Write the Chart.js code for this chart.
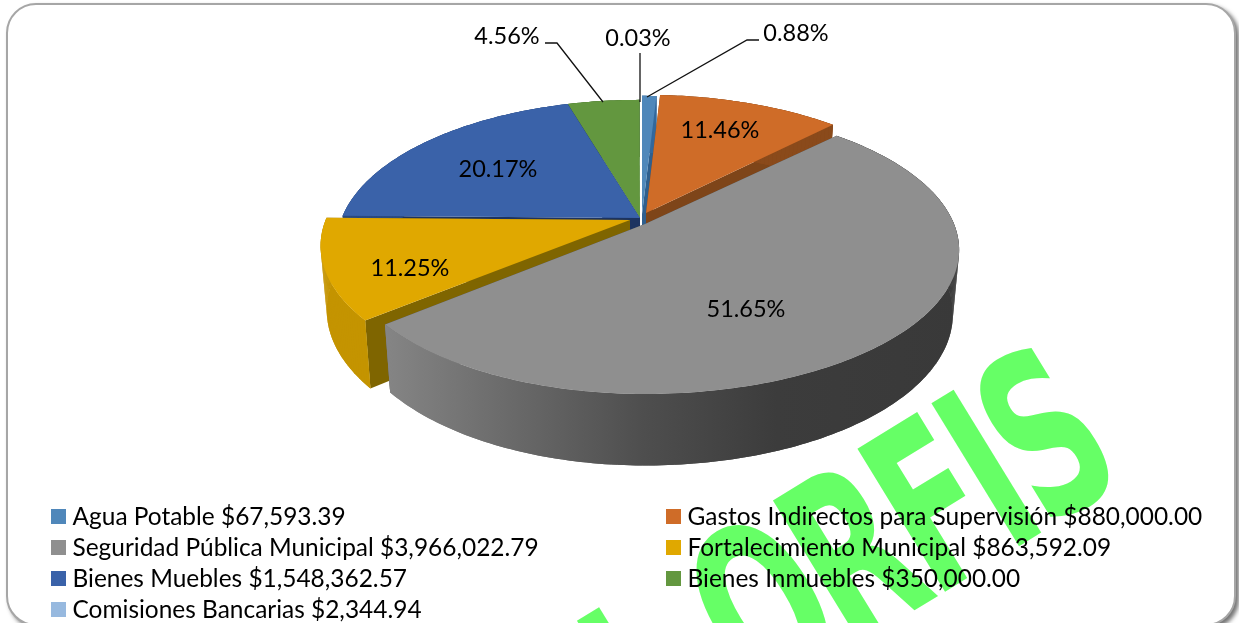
<!DOCTYPE html>
<html lang="es"><head><meta charset="utf-8">
<style>
html,body{margin:0;padding:0;background:#fff;overflow:hidden;width:1239px;height:623px}
#card{position:absolute;left:6px;top:3px;width:1230px;height:623px;box-sizing:border-box;background:#fff;border:2px solid #a6a6a6;border-radius:30px;box-shadow:3px 3px 4px rgba(0,0,0,.55)}
#wrap{position:absolute;left:0;top:0;width:1239px;height:623px}
</style>
<script src="https://cdn.jsdelivr.net/npm/chart.js@4"></script>
</head><body>
<div id="card"></div>
<div id="wrap"><canvas id="c" width="1239" height="623"></canvas></div>
<script>
// ---- data ----
const categories = ["Agua Potable","Gastos Indirectos para Supervisión","Seguridad Pública Municipal","Fortalecimiento Municipal","Bienes Muebles","Bienes Inmuebles","Comisiones Bancarias"];
const amounts = [67593.39,880000.00,3966022.79,863592.09,1548362.57,350000.00,2344.94];
const percentLabels = ["0.88%","11.46%","51.65%","11.25%","20.17%","4.56%","0.03%"];
const amountLabels = ["$67,593.39","$880,000.00","$3,966,022.79","$863,592.09","$1,548,362.57","$350,000.00","$2,344.94"];
// ---- style ----
const topColors = ["#4f87ba","#cf6c28","#8f8f8f","#e0a800","#3a62a9","#63973f","#97b9df"];
const wallColors = ["#33689c","#8a4a1b","#6a6a6a","#c49400","#2a4a80","#47702d","#7d9cc0"];
const cutColors = ["#2f5f8e","#7e4519","#4a4a4a","#7f6500","#1c3360","#3a5c25","#6b87a8"];
const apexes = [[642,214],[646,213],[645,224],[630,220],[640,218],[640,218],[640,218]];
const leftScale = [1,1,.967,.985,.965,.965,1];
const rightScale = [1,.975,1,1,1,1,1];
const paintOrder = [6,5,4,0,1,3,2];
const labelSpots = [[796,33],[720,130.5],[746,309.5],[410,268.5],[498,169.5],[507,36],[638,38.5]];
const leaders = [[[759,40],[747,40],[647,97]],null,null,null,null,[[545,43],[557,43],[603,102]],[[640,53],[640,102]]];
const legendSlots = [[51,517],[666,517],[51,548],[666,548],[51,579],[666,579],[51,610]];
const watermarkLetters = ["I","O","R","F","I","S"];
const watermarkOffsets = [-20,100,210,309,396,440];
const FONT = 'Lato, "Open Sans", sans-serif';
// perspective projection of the pie plane
const RX=309, RY=139.4, P=0.18, DEPTH=63, SX=0.98, SY=1.05;
function proj(theta, i, lower){
  const apex=apexes[i];
  const u=Math.sin(theta), v=-Math.cos(theta), w=1-P*v;
  const x=RX*u/w*(u<0?leftScale[i]:rightScale[i]), y=RY*v/w;
  return lower ? [apex[0]+x*SX, apex[1]+y*SY+DEPTH] : [apex[0]+x, apex[1]+y];
}
function poly(ctx, pts, fill){
  ctx.beginPath(); pts.forEach((p,i)=> i?ctx.lineTo(p[0],p[1]):ctx.moveTo(p[0],p[1]));
  ctx.closePath(); ctx.fillStyle=fill; ctx.fill();
}
function samples(a,b){ const n=Math.max(2,Math.ceil((b-a)/(Math.PI/180))); const r=[]; for(let i=0;i<=n;i++) r.push(a+(b-a)*i/n); return r; }

const pie3d = {
  id:'pie3d',
  beforeDraw(chart){
    const ctx=chart.ctx; ctx.save();
    ctx.fillStyle='#66ff66';
    ctx.font='bold 230px "DejaVu Sans"';
    ctx.textAlign='left'; ctx.textBaseline='alphabetic';
    ctx.translate(670.7,759.7); ctx.rotate(-31.5*Math.PI/180);
    watermarkLetters.forEach((l,i)=>{
      ctx.save(); ctx.translate(watermarkOffsets[i],0); ctx.scale(.6,1); ctx.fillText(l,0,0); ctx.restore();
    });
    ctx.restore();
  },
  beforeDatasetDraw(chart,args){
    const ctx=chart.ctx, arcs=chart.getDatasetMeta(args.index).data;
    paintOrder.forEach(i=>{
      const a=arcs[i], t0=a.startAngle+Math.PI/2, t1=a.endAngle+Math.PI/2, apex=apexes[i];
      const ts=samples(t0,t1);
      const low=[apex[0],apex[1]+DEPTH];
      poly(ctx,[apex,proj(t0,i),proj(t0,i,true),low],cutColors[i]);
      poly(ctx,[apex,proj(t1,i),proj(t1,i,true),low],cutColors[i]);
      let wall=wallColors[i];
      if(i===2){
        wall=ctx.createLinearGradient(385,0,960,0);
        wall.addColorStop(0,'#858585'); wall.addColorStop(.2,'#6c6c6c');
        wall.addColorStop(.45,'#4e4e4e'); wall.addColorStop(.68,'#3c3c3c'); wall.addColorStop(1,'#393939');
      }
      poly(ctx,ts.map(t=>proj(t,i)).concat(ts.slice().reverse().map(t=>proj(t,i,true))),wall);
      for(let k=0;k<ts.length-1;k++){
        poly(ctx,[proj(ts[k],i),proj(ts[k+1],i),proj(ts[k+1],i,true),proj(ts[k],i,true)],wall);
      }
      poly(ctx,[apex].concat(ts.map(t=>proj(t,i))),topColors[i]);
    });
    return false;
  },
  afterDatasetsDraw(chart){
    const ctx=chart.ctx; ctx.save();
    ctx.strokeStyle='#111'; ctx.lineWidth=1.3;
    leaders.forEach(l=>{ if(!l) return; ctx.beginPath(); l.forEach((p,i)=> i?ctx.lineTo(p[0],p[1]):ctx.moveTo(p[0],p[1])); ctx.stroke(); });
    ctx.fillStyle='#000'; ctx.font='23.5px '+FONT; ctx.textAlign='center'; ctx.textBaseline='middle';
    percentLabels.forEach((t,i)=>ctx.fillText(t,labelSpots[i][0],labelSpots[i][1]));
    ctx.textAlign='left'; ctx.font='24.45px '+FONT;
    categories.forEach((c,i)=>{
      const [x,y]=legendSlots[i];
      ctx.fillStyle=topColors[i]; ctx.fillRect(x,y-8,15,15);
      ctx.fillStyle='#000'; ctx.fillText(c+' '+amountLabels[i],x+21.5,y+0.5);
    });
    ctx.restore();
  }
};

new Chart(document.getElementById('c'),{
  type:'pie',
  data:{labels:categories,datasets:[{data:amounts,backgroundColor:topColors,borderWidth:0}]},
  options:{responsive:false,animation:false,plugins:{legend:{display:false},tooltip:{enabled:false}},events:[]},
  plugins:[pie3d]
});
</script>
</body></html>
